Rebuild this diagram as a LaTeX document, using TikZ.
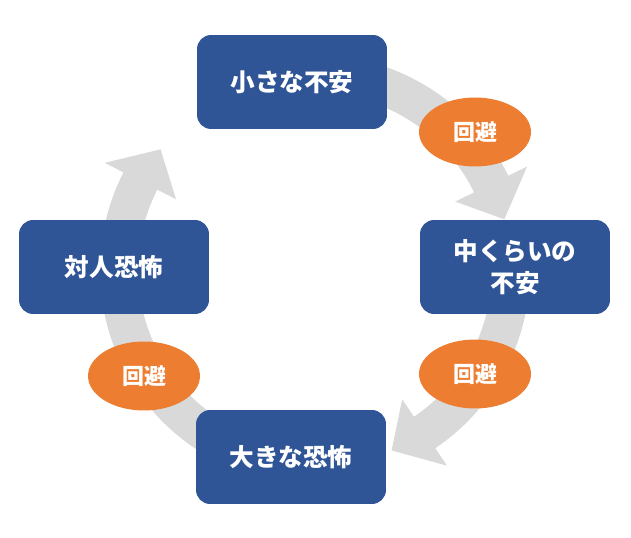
\documentclass[tikz,border=0pt]{standalone}
\usepackage{fontspec}
\setmainfont{Noto Sans CJK JP}
\usepackage{xcolor}
\usetikzlibrary{shapes.geometric,positioning}
\definecolor{stageblue}{HTML}{2F5597}
\definecolor{avoidorange}{HTML}{ED7D31}
\definecolor{cyclegray}{HTML}{D9D9D9}

\begin{document}
\begin{tikzpicture}
  [x=0.02cm,y=0.02cm,
   stage/.style={rectangle,rounded corners=8pt,fill=stageblue,text=white,align=center,
     minimum width=3.8cm,minimum height=1.88cm,font=\bfseries\fontsize{14}{18.5}\selectfont},
   avoid/.style={ellipse,fill=avoidorange,text=white,inner sep=0pt,
     minimum width=2.24cm,minimum height=1.38cm,font=\bfseries\fontsize{12.5}{15}\selectfont}]
  \useasboundingbox (0,0) rectangle (631,537);
  % gray arrows round the cycle
  \foreach \from/\to in {88/15,0/-67,-90/-218}
    \fill[cyclegray,shift={(315,267)}] (\from:215) arc[start angle=\from,end angle=\to+11,radius=215]
      -- (\to+11:236) -- (\to:196) -- (\to+11:156) -- (\to+11:177)
      arc[start angle=\to+11,end angle=\from,radius=177] -- cycle;
  \node[stage] (small) at (292,455) {小さな不安};
  \node[stage] (middle) at (515,270) {中くらいの\\不安};
  \node[stage] (big) at (291,80) {大きな恐怖};
  \node[stage] (social) at (114,270) {対人恐怖};
  \node[avoid] (a1) at (475,405) {回避};
  \node[avoid] (a2) at (475,163) {回避};
  \node[avoid] (a3) at (144,161) {回避};
\end{tikzpicture}
\end{document}
